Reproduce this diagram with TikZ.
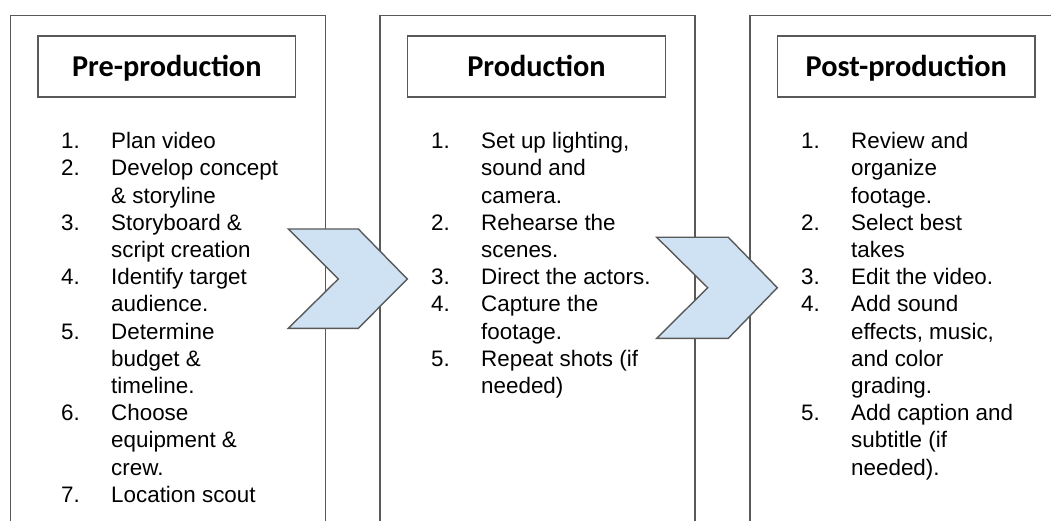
\documentclass[tikz,border=0pt]{standalone}
\usepackage{fontspec}
\setmainfont{Liberation Sans}
\newfontfamily\headfont{Carlito}
\definecolor{edge}{HTML}{595959}
\definecolor{chev}{HTML}{CFE2F3}
% numbered step and its continuation lines
\newcommand\stepline[2]{\makebox[50pt][l]{#1}#2}
\newcommand\stepmore[1]{\hspace*{50pt}#1}
\begin{document}
\begin{tikzpicture}[x=1pt,y=-1pt,
  stage/.style={draw=edge, line width=1.4pt, rectangle, minimum width=315pt,
    minimum height=540pt, anchor=north west, inner sep=0pt},
  title/.style={draw=edge, line width=1.4pt, minimum width=257.5pt, minimum height=61pt,
    inner sep=0pt, font=\headfont\bfseries\fontsize{30.3}{36}\selectfont,
    text height=22pt, text depth=1.6pt},
  % a multi-line node's base anchor sits on its last line
  steps/.style={anchor=base west, align=left, inner sep=0pt,
    font=\fontsize{22.4}{27.2}\selectfont},
  chevron/.style={fill=chev, draw=edge, line width=1.4pt, line join=miter}]
\useasboundingbox (0,0) rectangle (1051,521);
\clip (0,0) rectangle (1051,521);

% the three stage columns
\node[stage] (pre)  at (10,15) {};
\node[stage] (prod) at (379.3,15) {};
\node[stage] (post) at (749.3,15) {};

% stage headings
\node[title] (preT)  at (166.8,66.5) {Pre-production};
\node[title] (prodT) at (536.5,66.5) {Production};
\node[title] (postT) at (906.2,66.5) {Post-production};

% step lists
\node[steps] (preL) at (61,502.3) {%
  \stepline{1.}{Plan video}\\
  \stepline{2.}{Develop concept}\\
  \stepmore{\& storyline}\\
  \stepline{3.}{Storyboard \&}\\
  \stepmore{script creation}\\
  \stepline{4.}{Identify target}\\
  \stepmore{audience.}\\
  \stepline{5.}{Determine}\\
  \stepmore{budget \&}\\
  \stepmore{timeline.}\\
  \stepline{6.}{Choose}\\
  \stepmore{equipment \&}\\
  \stepmore{crew.}\\
  \stepline{7.}{Location scout}};

\node[steps] (prodL) at (431,393.5) {%
  \stepline{1.}{Set up lighting,}\\
  \stepmore{sound and}\\
  \stepmore{camera.}\\
  \stepline{2.}{Rehearse the}\\
  \stepmore{scenes.}\\
  \stepline{3.}{Direct the actors.}\\
  \stepline{4.}{Capture the}\\
  \stepmore{footage.}\\
  \stepline{5.}{Repeat shots (if}\\
  \stepmore{needed)}};

\node[steps] (postL) at (801,475.1) {%
  \stepline{1.}{Review and}\\
  \stepmore{organize}\\
  \stepmore{footage.}\\
  \stepline{2.}{Select best}\\
  \stepmore{takes}\\
  \stepline{3.}{Edit the video.}\\
  \stepline{4.}{Add sound}\\
  \stepmore{effects, music,}\\
  \stepmore{and color}\\
  \stepmore{grading.}\\
  \stepline{5.}{Add caption and}\\
  \stepmore{subtitle (if}\\
  \stepmore{needed).}};

% chevrons between the stages
\draw[chevron] (288.3,229) -- (358.3,229) -- (407.3,279) -- (358.3,328.3)
  -- (288.3,328.3) -- (338.3,279) -- cycle;
\draw[chevron] (656.7,237.3) -- (728.3,237.3) -- (777.3,287.7) -- (728.3,338.3)
  -- (656.7,338.3) -- (707.7,287.7) -- cycle;
\end{tikzpicture}
\end{document}
